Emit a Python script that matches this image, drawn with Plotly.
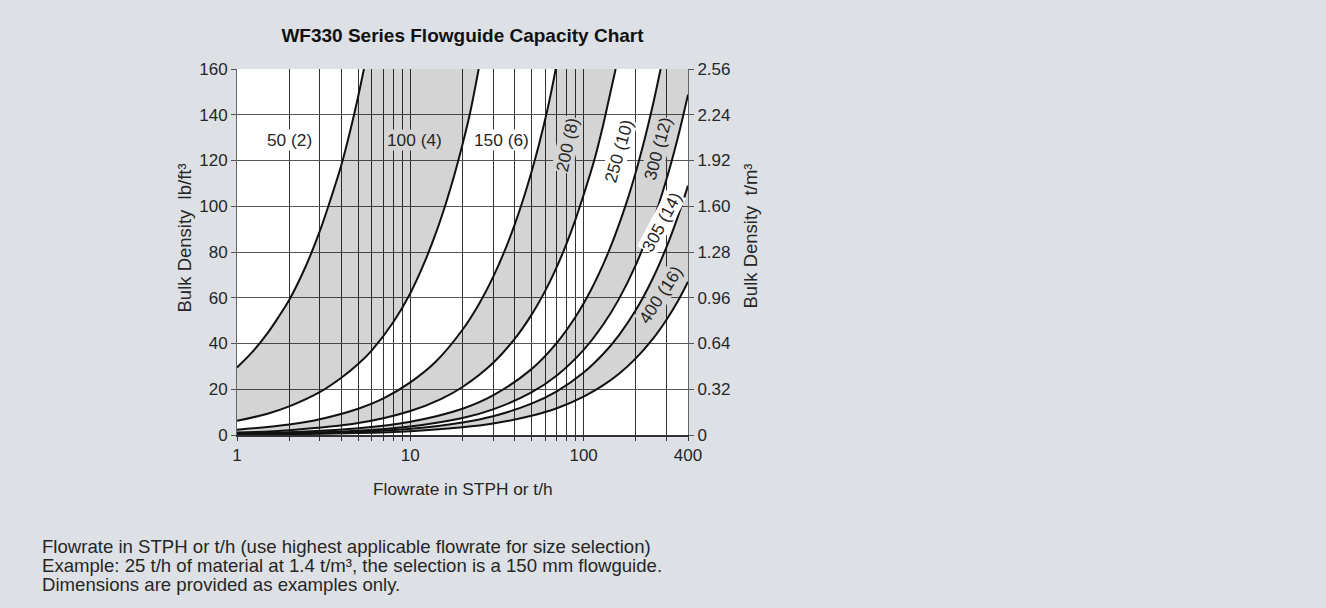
import numpy as np
import plotly.graph_objects as go

# ---------------- data ----------------
title_text = "WF330 Series Flowguide Capacity Chart"

# Each curve: flowrate (STPH or t/h) and bulk density (lb/ft3) points
c1_flow = [1, 1.25, 1.5, 1.75, 2, 2.5, 3, 3.5, 4, 4.5, 5, 5.4]
c1_dens = [29.5, 37, 44.5, 52, 59, 74, 89, 104, 118, 133, 148, 160]
c2_flow = [1, 1.5, 2, 3, 4, 5, 6, 8, 10, 12, 14, 16, 18, 20, 22, 24.8]
c2_dens = [6.2, 9.3, 12.5, 18.7, 25, 31, 37, 49.5, 62, 75, 88, 101, 114, 127, 140, 160]
c3_flow = [1, 2, 3, 5, 7, 10, 14, 20, 25, 30, 35, 40, 45, 50, 55, 60, 65, 69]
c3_dens = [2.3, 4.6, 6.9, 11.5, 16, 23, 32, 46, 57.5, 69, 80.5, 92, 103.5, 115, 126.5, 138, 150, 160]
c4_flow = [1, 2, 5, 10, 15, 20, 30, 40, 50, 60, 70, 80, 90, 100, 115, 130, 142, 153]
c4_dens = [1.05, 2.1, 5.2, 10.5, 15.7, 21, 31.5, 42, 52.5, 63, 73.5, 84, 94.5, 105, 120, 136, 149, 160]
c5_flow = [1, 2, 5, 10, 20, 30, 50, 70, 90, 110, 130, 150, 175, 200, 225, 250, 278]
c5_dens = [0.58, 1.15, 2.9, 5.8, 11.5, 17.3, 28.8, 40.3, 51.8, 63.3, 74.8, 86.3, 100.6, 115, 129.4, 143.8, 160]
c6_flow = [1, 2, 5, 10, 20, 30, 50, 70, 100, 130, 160, 200, 250, 300, 350, 400]
c6_dens = [0.37, 0.74, 1.86, 3.7, 7.4, 11.2, 18.6, 26, 37.2, 48.4, 59.5, 74.4, 93, 111.6, 130.2, 148.8]
c7_flow = [1, 2, 5, 10, 20, 30, 50, 70, 100, 130, 160, 200, 250, 300, 350, 400]
c7_dens = [0.27, 0.55, 1.37, 2.73, 5.5, 8.2, 13.7, 19.1, 27.3, 35.5, 43.7, 54.6, 68.3, 82, 95.6, 109]
c8_flow = [1, 2, 5, 10, 20, 30, 50, 70, 100, 130, 160, 200, 250, 300, 350, 400]
c8_dens = [0.17, 0.34, 0.84, 1.68, 3.35, 5, 8.4, 11.7, 16.8, 21.8, 26.8, 33.5, 41.9, 50.3, 58.6, 67]

curves = [(c1_flow, c1_dens), (c2_flow, c2_dens), (c3_flow, c3_dens), (c4_flow, c4_dens),
          (c5_flow, c5_dens), (c6_flow, c6_dens), (c7_flow, c7_dens), (c8_flow, c8_dens)]
# shaded bands: pairs of curve indices
bands = [(0, 1), (2, 3), (4, 5), (6, 7)]

flow_min, flow_max = 1, 400
dens_min, dens_max = 0, 160

size_labels = ["50 (2)", "100 (4)", "150 (6)", "200 (8)", "250 (10)", "300 (12)", "305 (14)", "400 (16)"]
label_flow = [2.02, 10.6, 33.7, 81, 160, 268, 281, 278]
label_dens = [129, 129, 129, 127, 124, 125, 93.3, 61]
label_angle = [0, 0, 0, -78, -74, -75, -62, -57]
label_shaded = [False, True, False, True, False, True, False, True]

x_tick_vals = [1, 10, 100, 400]
x_minor_vals = [2, 3, 4, 5, 6, 7, 8, 9, 20, 30, 40, 50, 60, 70, 80, 90, 200, 300]
y_tick_vals = [0, 20, 40, 60, 80, 100, 120, 140, 160]
y2_tick_vals = [0, 0.32, 0.64, 0.96, 1.28, 1.60, 1.92, 2.24, 2.56]
y2_tick_text = ["0", "0.32", "0.64", "0.96", "1.28", "1.60", "1.92", "2.24", "2.56"]

note_lines = ["Flowrate in STPH or t/h (use highest applicable flowrate for size selection)",
              "Example: 25 t/h of material at 1.4 t/m³, the selection is a 150 mm flowguide.",
              "Dimensions are provided as examples only."]

# ---------------- styling ----------------
FONT = "Liberation Sans, Arial, Helvetica, sans-serif"
PAGE_BG = "#dde1e5"
SHADE = "rgba(0,0,0,0.17)"
SHADE_SOLID = "#d4d4d4"
TXT = "#262626"
W, H = 1326, 608
ML, MR, MT, MB = 237, 638, 69, 173
PW, PH = W - ML - MR, H - MT - MB


def px_x(px):
    return (px - ML) / PW


def px_y(py):
    return (H - MB - py) / PH


fig = go.Figure()

# shaded bands
for a, b in bands:
    fa, da = curves[a]
    fb, db = curves[b]
    xs = list(fa)
    ys = list(da)
    if da[-1] >= dens_max and db[-1] < dens_max:
        xs.append(flow_max)
        ys.append(dens_max)
    xs += list(fb)[::-1]
    ys += list(db)[::-1]
    fig.add_trace(go.Scatter(x=xs, y=ys, mode="lines", fill="toself", fillcolor=SHADE,
                             line=dict(width=0), hoverinfo="skip", showlegend=False))

# curve lines
for f, d in curves:
    fig.add_trace(go.Scatter(x=f, y=d, mode="lines",
                             line=dict(color="#111111", width=2, shape="spline", smoothing=1),
                             showlegend=False, hoverinfo="skip"))

# empty trace so the right-hand density axis (t/m3) is drawn
fig.add_trace(go.Scatter(x=[None], y=[None], yaxis="y2", mode="lines", showlegend=False, hoverinfo="skip"))

# size labels
for txt, fx, dy, ang, sh in zip(size_labels, label_flow, label_dens, label_angle, label_shaded):
    fig.add_annotation(x=np.log10(fx), y=dy, xref="x", yref="y", text=txt, showarrow=False,
                       textangle=ang, font=dict(family=FONT, size=17.3, color=TXT),
                       bgcolor=SHADE_SOLID if sh else "white", borderpad=0)

# axis titles and notes
fig.add_annotation(x=px_x(172), y=px_y(238), xref="paper", yref="paper", text="Bulk Density  lb/ft³",
                   textangle=-90, showarrow=False, font=dict(family=FONT, size=18.5, color=TXT))
fig.add_annotation(x=px_x(763), y=px_y(236), xref="paper", yref="paper", text="Bulk Density  t/m³",
                   textangle=-90, showarrow=False, font=dict(family=FONT, size=18.5, color=TXT))
fig.add_annotation(x=0.5, y=px_y(489), xref="paper", yref="paper", text="Flowrate in STPH or t/h",
                   showarrow=False, yanchor="middle", font=dict(family=FONT, size=17.3, color=TXT))
for i, line in enumerate(note_lines):
    fig.add_annotation(x=px_x(40), y=px_y(546 + 19 * i), xref="paper", yref="paper", text=line,
                       align="left", xanchor="left", yanchor="middle", showarrow=False,
                       font=dict(family=FONT, size=18.6, color=TXT))

fig.update_layout(
    width=W, height=H,
    margin=dict(l=ML, r=MR, t=MT, b=MB),
    paper_bgcolor=PAGE_BG, plot_bgcolor="white",
    font=dict(family=FONT, size=17, color=TXT),
    title=dict(text="<b>" + title_text + "</b>", x=0.5, xref="paper", xanchor="center",
               y=1 - 35 / H, yref="container", yanchor="middle",
               font=dict(family=FONT, size=19, color="#111111")),
    showlegend=False,
    xaxis=dict(type="log", range=[np.log10(flow_min), np.log10(flow_max)],
               tickvals=x_tick_vals, ticktext=[str(v) for v in x_tick_vals],
               showgrid=True, gridcolor="#333333", gridwidth=1,
               ticks="outside", ticklen=4, tickcolor="#333333",
               minor=dict(tickvals=x_minor_vals, showgrid=True, gridcolor="#333333", gridwidth=1,
                          ticks="outside", ticklen=4, tickcolor="#333333"),
               showline=True, linecolor="#333333", linewidth=1.5, zeroline=False,
               tickfont=dict(family=FONT, size=17, color=TXT)),
    yaxis=dict(range=[dens_min, dens_max], tickvals=y_tick_vals,
               showgrid=True, gridcolor="#555555", gridwidth=1.4,
               ticks="outside", ticklen=5, tickcolor="#555555",
               showline=True, linecolor="#666666", linewidth=1, zeroline=False,
               tickfont=dict(family=FONT, size=17, color=TXT)),
    yaxis2=dict(range=[0, 2.56], overlaying="y", side="right", tickvals=y2_tick_vals,
                ticktext=y2_tick_text, showgrid=False, ticks="outside", ticklen=5,
                tickcolor="#555555", showline=True, linecolor="#666666", linewidth=1,
                zeroline=False, tickfont=dict(family=FONT, size=17, color=TXT)),
)

fig.write_html("out.html", config={"displayModeBar": False},
               post_script="document.body.style.margin='0';document.body.style.background='" + PAGE_BG + "';")
